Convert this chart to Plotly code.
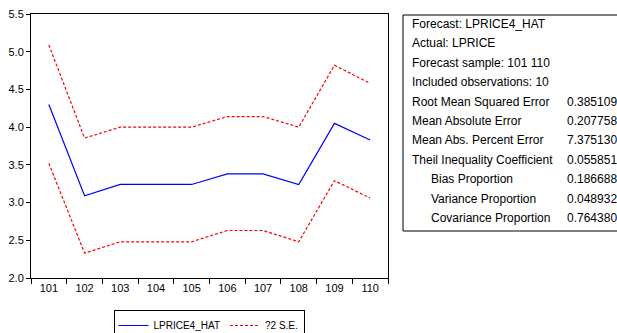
import plotly.graph_objects as go

# Forecast period observations
obs = [101, 102, 103, 104, 105, 106, 107, 108, 109, 110]

# Forecast of LPRICE and its +/- 2 standard error band
forecast = [4.30, 3.09, 3.24, 3.24, 3.24, 3.38, 3.38, 3.24, 4.05, 3.83]
upper = [5.09, 3.855, 4.00, 4.00, 4.00, 4.14, 4.14, 4.00, 4.82, 4.58]
lower = [3.52, 2.33, 2.48, 2.48, 2.48, 2.63, 2.63, 2.48, 3.29, 3.06]

y_ticks = [2.0, 2.5, 3.0, 3.5, 4.0, 4.5, 5.0, 5.5]

# Forecast evaluation statistics
stat_labels = [
    "Forecast: LPRICE4_HAT",
    "Actual: LPRICE",
    "Forecast sample: 101 110",
    "Included observations: 10",
    "Root Mean Squared Error",
    "Mean Absolute Error",
    "Mean Abs. Percent Error",
    "Theil Inequality Coefficient",
    "Bias Proportion",
    "Variance Proportion",
    "Covariance Proportion",
]
stat_values = ["", "", "", "", "0.385109", "0.207758", "7.375130",
               "0.055851", "0.186688", "0.048932", "0.764380"]
stat_indent = [0, 0, 0, 0, 0, 0, 0, 0, 1, 1, 1]

W, H = 617, 333
ML, MR, MT, MB = 31, 229, 14, 55
PW, PH = W - ML - MR, H - MT - MB


def px_x(px):
    return (px - ML) / PW


def px_y(py):
    return (H - MB - py) / PH


FONT = "Liberation Sans, Arial, sans-serif"

fig = go.Figure()
fig.add_trace(go.Scatter(
    x=obs, y=forecast, mode="lines", name="LPRICE4_HAT",
    line=dict(color="#0000ff", width=1.2),
))
fig.add_trace(go.Scatter(
    x=obs, y=upper, mode="lines", name="?2 S.E.", legendgroup="se",
    line=dict(color="#ff0000", width=1.2, dash="3px,2px"),
))
fig.add_trace(go.Scatter(
    x=obs, y=lower, mode="lines", name="?2 S.E.", legendgroup="se",
    showlegend=False,
    line=dict(color="#ff0000", width=1.2, dash="3px,2px"),
))

# Statistics box
box_left, box_top, box_bottom = 403, 15, 231
fig.add_shape(type="rect", xref="paper", yref="paper",
              x0=px_x(box_left), x1=px_x(W + 5),
              y0=px_y(box_bottom), y1=px_y(box_top),
              line=dict(color="black", width=1), fillcolor="white")

first_line, spacing = 24, 19.4
for i, (lab, val, ind) in enumerate(zip(stat_labels, stat_values, stat_indent)):
    yy = px_y(first_line + i * spacing)
    fig.add_annotation(x=px_x(410 + 19 * ind), y=yy, xref="paper", yref="paper",
                       text=lab, showarrow=False, xanchor="left", yanchor="middle",
                       font=dict(family=FONT, size=12, color="black"))
    if val:
        fig.add_annotation(x=px_x(565), y=yy, xref="paper", yref="paper",
                           text=val, showarrow=False, xanchor="left",
                           yanchor="middle",
                           font=dict(family=FONT, size=12, color="black"))

fig.update_layout(
    width=W, height=H,
    margin=dict(l=ML, r=MR, t=MT, b=MB, autoexpand=False),
    paper_bgcolor="white", plot_bgcolor="white",
    font=dict(family=FONT, size=11, color="black"),
    showlegend=True,
    legend=dict(orientation="h", x=px_x(209), y=px_y(310), xanchor="center",
                yanchor="top", bordercolor="black", borderwidth=1,
                font=dict(family=FONT, size=10, color="black"),
                bgcolor="white", tracegroupgap=0, itemwidth=30),
    xaxis=dict(range=[100.5, 110.5], tickmode="array", tickvals=obs,
               ticktext=[str(o) for o in obs], ticks="", showgrid=False,
               zeroline=False, showline=True, linecolor="black", linewidth=1,
               mirror=True,
               minor=dict(tickmode="array",
                          tickvals=[o - 0.5 for o in obs] + [obs[-1] + 0.5],
                          ticks="outside", ticklen=5, tickcolor="black",
                          tickwidth=1, showgrid=False),
               tickfont=dict(size=11)),
    yaxis=dict(range=[2.0, 5.5], tickmode="array", tickvals=y_ticks,
               ticktext=[f"{v:.1f}" for v in y_ticks], ticks="outside",
               ticklen=4, tickcolor="black", showgrid=False, zeroline=False,
               showline=True, linecolor="black", linewidth=1, mirror=True,
               tickfont=dict(size=11)),
)

fig.write_html("out.html")
